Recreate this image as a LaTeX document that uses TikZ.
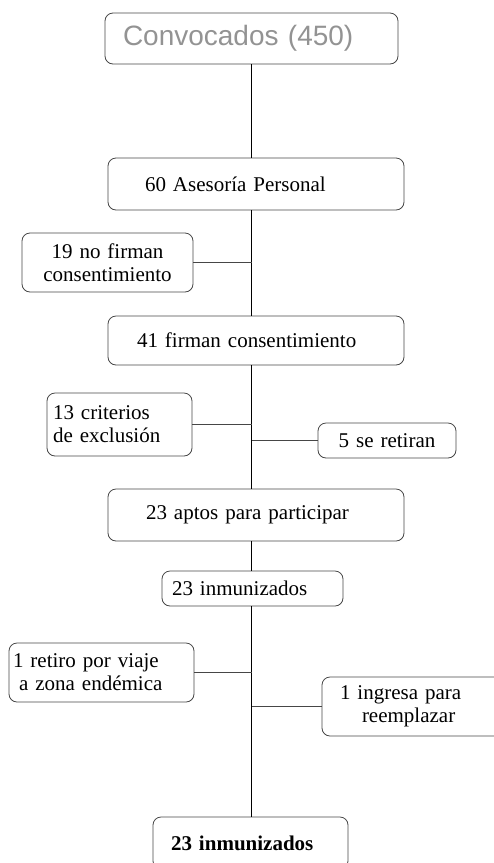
\documentclass[tikz,border=0pt]{standalone}
\usepackage{fontspec}
\setmainfont{Liberation Serif}
\newfontfamily\arialfont{Liberation Sans}
\usetikzlibrary{positioning}
\colorlet{colorBox}{gray!55!black}
\colorlet{colorConv}{gray!85}
\tikzset{
   box/.style={draw=colorBox,line width=0.8pt,rounded corners=8pt,inner ysep=0pt,align=left,font=\fontsize{21}{23}\selectfont},
   cbox/.style={box,align=center},
   link/.style={-,line width=0.8pt,black},
   side/.style={-,line width=0.8pt,colorBox},
}
\begin{document}
\begin{tikzpicture}[x=1pt,y=-1pt]
      \useasboundingbox (0,0) rectangle (494,863);
      \node[box,text width=257pt,inner xsep=18pt,minimum height=51pt,font=\arialfont\fontsize{28}{30}\selectfont,text=colorConv] (conv) at (251.5,38.5) {Convocados (450)};
      \node[box,text width=222pt,inner xsep=37pt,minimum height=52pt] (ases) at (256,184) {60 Asesoría Personal};
      \node[cbox,text width=159pt,inner xsep=6pt,minimum height=59pt] (nof) at (107.5,262.5) {19 no firman\\consentimiento};
      \node[box,text width=238pt,inner xsep=29pt,minimum height=49pt] (fir) at (256,340.5) {41 firman consentimiento};
      \node[box,text width=133pt,inner xsep=6pt,minimum height=63pt] (exc) at (119.5,424.5) {13 criterios\\de exclusión};
      \node[cbox,text width=126pt,inner xsep=6pt,minimum height=35pt] (ret) at (387,440.5) {5 se retiran};
      \node[box,text width=220pt,inner xsep=38pt,minimum height=52pt] (apt) at (256,515) {23 aptos para participar};
      \node[box,text width=161pt,inner xsep=10pt,minimum height=35pt] (inm) at (252.5,588.5) {23 inmunizados};
      \node[box,text width=177pt,inner xsep=4pt,minimum height=59pt] (via) at (101.5,672.5) {1 retiro por viaje\\\hspace*{6pt}a zona endémica};
      \node[box,text width=154pt,inner xsep=18pt,minimum height=59pt] (ing) at (417,706.5) {1 ingresa para\\\hspace*{22pt}reemplazar};
      \node[box,text width=159pt,inner xsep=18pt,minimum height=52pt,font=\bfseries\fontsize{21}{23}\selectfont] (fin) at (250.5,843) {23 inmunizados};
      \draw[link] (conv.south) -- (conv.south |- ases.north);
      \draw[link] (ases.south -| conv.south) -- (fir.north -| conv.south);
      \draw[link] (fir.south -| conv.south) -- (apt.north -| conv.south);
      \draw[link] (apt.south -| conv.south) -- (inm.north -| conv.south);
      \draw[link] (inm.south -| conv.south) -- (fin.north -| conv.south);
      \draw[side] (nof.east) -- (nof.east -| conv.south);
      \draw[side] (exc.east) -- (exc.east -| conv.south);
      \draw[side] (ret.west) -- (ret.west -| conv.south);
      \draw[side] (via.east) -- (via.east -| conv.south);
      \draw[side] (ing.west) -- (ing.west -| conv.south);
\end{tikzpicture}
\end{document}
